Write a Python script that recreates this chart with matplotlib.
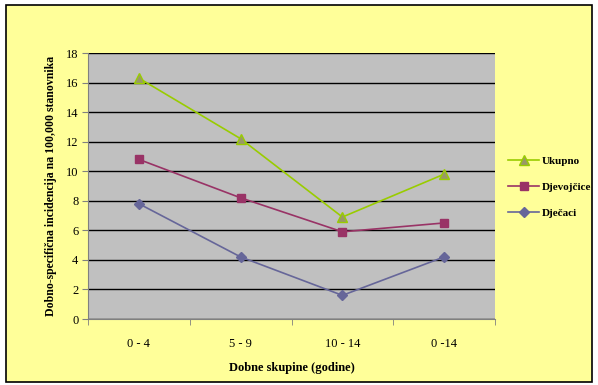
import matplotlib.pyplot as plt
from matplotlib.patches import Rectangle

plt.rcParams['font.family'] = ['Liberation Serif', 'DejaVu Serif']

groups = ["0 - 4", "5 - 9", "10 - 14", "0 -14"]
ukupno = [16.3, 12.2, 6.9, 9.8]
djevojcice = [10.8, 8.2, 5.9, 6.5]
djecaci = [7.8, 4.2, 1.6, 4.2]

fig = plt.figure(figsize=(5.98, 3.85), dpi=100)
fig.patch.set_facecolor("white")
fig.add_artist(Rectangle((6 / 598, 3 / 385), 586 / 598, 377 / 385,
                         transform=fig.transFigure, facecolor="#FFFF99",
                         edgecolor="black", linewidth=1.2, zorder=-10))

ax = fig.add_axes([88 / 598, 66 / 385, 407 / 598, 266 / 385])
ax.set_facecolor("#C0C0C0")
x = range(len(groups))

ax.plot(x, ukupno, color="#99CC00", lw=1.2, marker="^", ms=7,
        mfc="#999966", mec="#99CC00", label="Ukupno", zorder=3)
ax.plot(x, djevojcice, color="#993366", lw=1.2, marker="s", ms=6,
        mfc="#993366", mec="#993366", label="Djevojčice", zorder=3)
ax.plot(x, djecaci, color="#666699", lw=1.2, marker="D", ms=5,
        mfc="#666699", mec="#666699", label="Dječaci", zorder=3)

ax.set_ylim(0, 18)
ax.set_yticks(range(0, 19, 2))
ax.set_xlim(-0.5, 3.5)
ax.set_xticks(list(x))
ax.set_xticklabels(groups)
ax.set_xticks([-0.5, 0.5, 1.5, 2.5, 3.5], minor=True)
ax.tick_params(axis="x", which="major", length=0, pad=14, labelsize=9)
ax.tick_params(axis="x", which="minor", length=4, color="#808080", direction="out")
ax.tick_params(axis="y", length=4, color="#808080", labelsize=9, pad=3)
ax.grid(axis="y", color="black", lw=1)
ax.set_axisbelow(True)
for side in ["top", "right"]:
    ax.spines[side].set_visible(False)
for side in ["left", "bottom"]:
    ax.spines[side].set_color("#808080")

ax.set_xlabel("Dobne skupine (godine)", fontsize=9, fontweight="bold", labelpad=8)
ax.set_ylabel("Dobno-specifična incidencija na 100,000 stanovnika", fontsize=8.5,
              fontweight="bold", labelpad=6)

fig.legend(loc="upper left", bbox_to_anchor=(498 / 598, 1 - 146 / 385),
           frameon=False, prop={"weight": "bold", "size": 8},
           handlelength=2.8, labelspacing=1.45, handletextpad=0.2)

fig.savefig("out.png", dpi=100)
